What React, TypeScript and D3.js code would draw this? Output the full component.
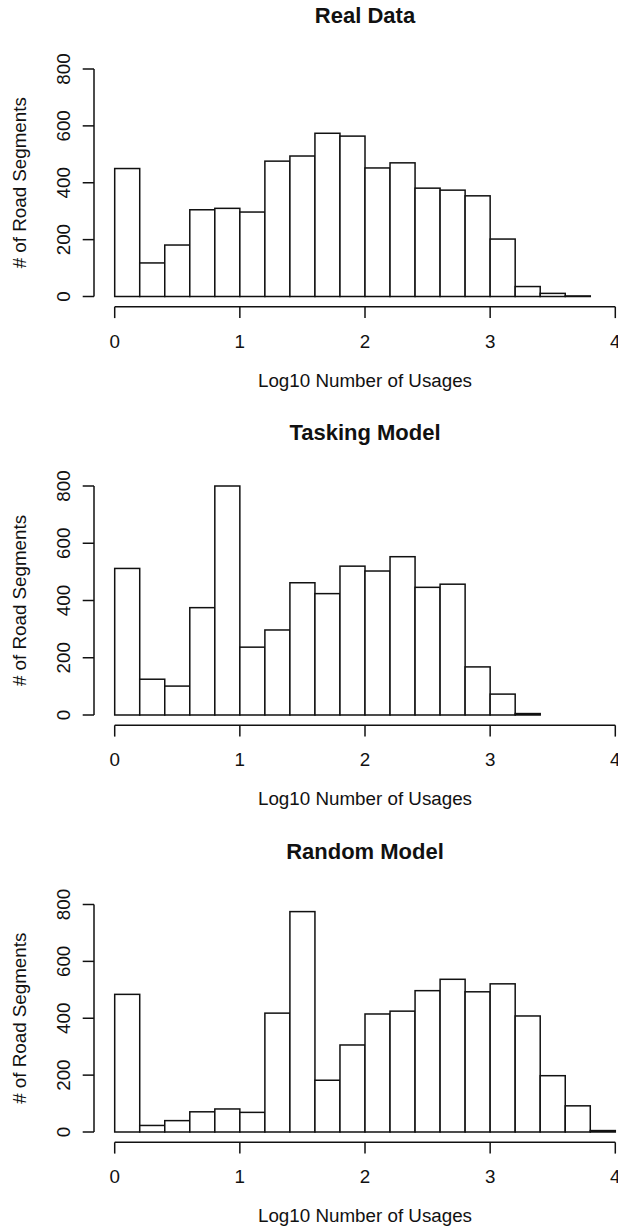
import React from "react";
import * as d3 from "d3";

const breaks = [0, 0.2, 0.4, 0.6, 0.8, 1.0, 1.2, 1.4, 1.6, 1.8, 2.0, 2.2, 2.4, 2.6, 2.8, 3.0, 3.2, 3.4, 3.6, 3.8, 4.0];
const xTicks = [0, 1, 2, 3, 4];
const yTicks = [0, 200, 400, 600, 800];

const realCounts = [450, 118, 181, 305, 310, 297, 476, 494, 574, 564, 452, 470, 381, 374, 354, 202, 35, 11, 2];
const taskingCounts = [512, 125, 101, 375, 800, 237, 297, 462, 424, 520, 503, 553, 446, 457, 168, 73, 5];
const randomCounts = [484, 23, 40, 71, 81, 69, 418, 775, 182, 306, 415, 425, 497, 537, 493, 521, 408, 198, 92, 5];

const titles = ["Real Data", "Tasking Model", "Random Model"];
const xLabel = "Log10 Number of Usages";
const yLabel = "# of Road Segments";

const W = 618;
const H = 1227;
const FONT = "'Liberation Sans', Arial, Helvetica, sans-serif";
const INK = "#111";

// pixel ranges of y = 0 and y = 800 for each panel
const panelY: [number, number][] = [
  [296.5, 69],
  [715, 486],
  [1132, 904.5],
];

const x = d3.scaleLinear().domain([0, 4]).range([114.7, 615.3]);

function Panel({ title, counts, yr }: { title: string; counts: number[]; yr: [number, number] }) {
  const y = d3.scaleLinear().domain([0, 800]).range(yr);
  const axisX = 94;
  const axisY = y(0) + 10.3;
  const tick = 11.3;
  const cx = (x.range()[0] + x.range()[1]) / 2 - 0.5 * (x(0.16) - x(0)) + 0; // plot-center
  const plotCenter = (x(-0.16) + x(4.16)) / 2;
  return (
    <g>
      <text x={plotCenter} y={y(800) - 46} textAnchor="middle" fontWeight="bold" fontSize={22} fontFamily={FONT} fill={INK}>
        {title}
      </text>
      {counts.map((c, i) => (
        <rect
          key={i}
          x={x(breaks[i])}
          y={y(c)}
          width={x(breaks[i + 1]) - x(breaks[i])}
          height={y(0) - y(c)}
          fill="#fff"
          stroke={INK}
          strokeWidth={1.5}
        />
      ))}
      {/* y axis */}
      <line x1={axisX} x2={axisX} y1={y(0)} y2={y(800)} stroke={INK} strokeWidth={1.5} />
      {yTicks.map((t) => (
        <g key={t}>
          <line x1={axisX - tick} x2={axisX} y1={y(t)} y2={y(t)} stroke={INK} strokeWidth={1.5} />
          <text
            transform={`translate(${axisX - 24},${y(t)}) rotate(-90)`}
            textAnchor="middle"
            fontSize={18.8}
            fontFamily={FONT}
            fill={INK}
          >
            {t}
          </text>
        </g>
      ))}
      <text
        transform={`translate(26,${y(400)}) rotate(-90)`}
        textAnchor="middle"
        fontSize={18.8}
        fontFamily={FONT}
        fill={INK}
      >
        {yLabel}
      </text>
      {/* x axis */}
      <line x1={x(0)} x2={x(4)} y1={axisY} y2={axisY} stroke={INK} strokeWidth={1.5} />
      {xTicks.map((t) => (
        <g key={t}>
          <line x1={x(t)} x2={x(t)} y1={axisY} y2={axisY + tick} stroke={INK} strokeWidth={1.5} />
          <text x={x(t)} y={axisY + 41} textAnchor="middle" fontSize={18.8} fontFamily={FONT} fill={INK}>
            {t}
          </text>
        </g>
      ))}
      <text x={plotCenter} y={axisY + 80} textAnchor="middle" fontSize={18.8} fontFamily={FONT} fill={INK}>
        {xLabel}
      </text>
    </g>
  );
}

export default function App() {
  const all = [realCounts, taskingCounts, randomCounts];
  return (
    <div style={{ position: "absolute", left: 0, top: 0, width: W, height: H, overflow: "hidden", background: "#fff" }}>
      <svg width={W} height={H} viewBox={`0 0 ${W} ${H}`} style={{ display: "block" }}>
        <rect width={W} height={H} fill="#fff" />
        {all.map((c, i) => (
          <Panel key={i} title={titles[i]} counts={c} yr={panelY[i]} />
        ))}
      </svg>
    </div>
  );
}
